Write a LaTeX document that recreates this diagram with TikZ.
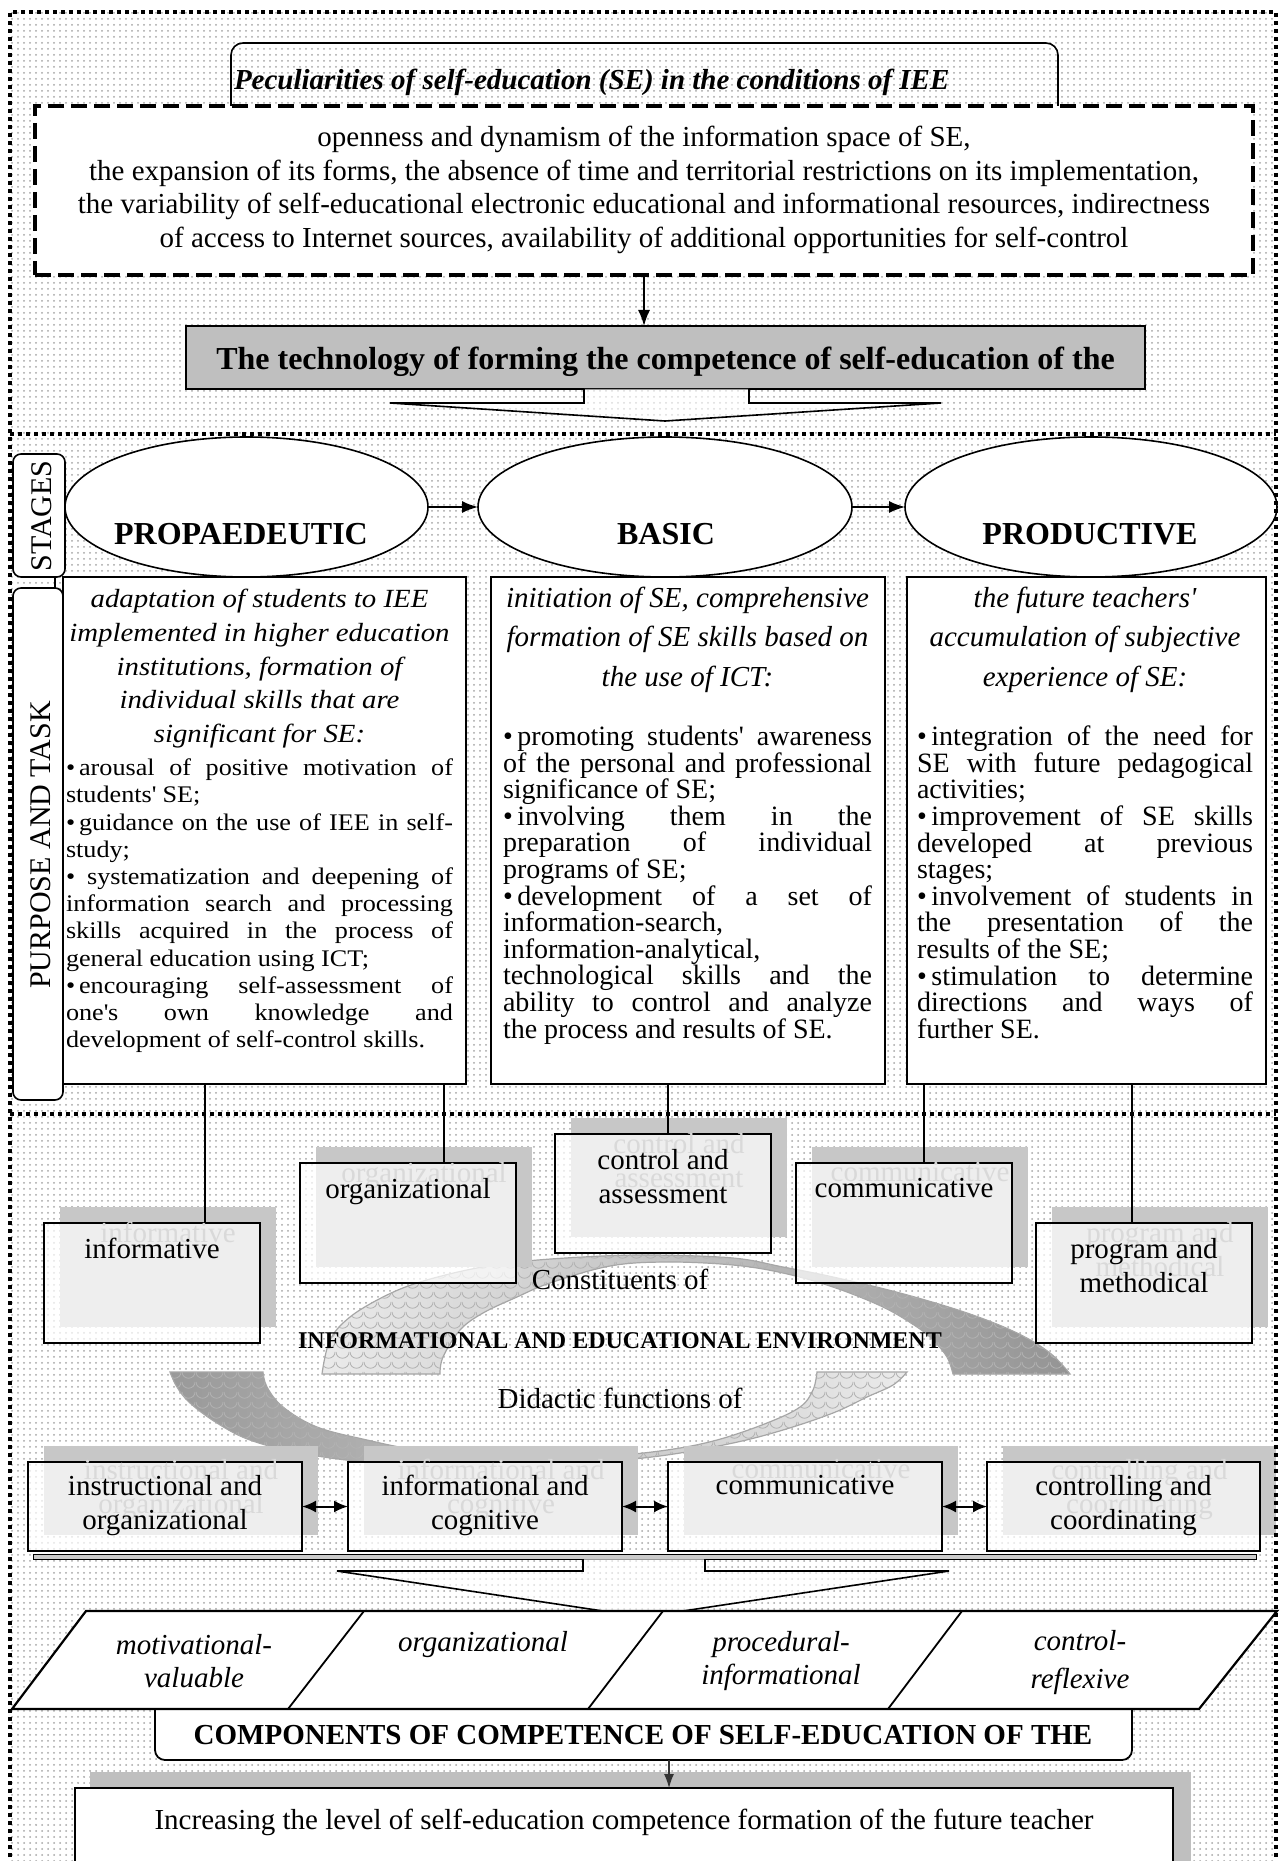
\documentclass[tikz,border=0pt]{standalone}
\usepackage{fontspec}
\setmainfont{Liberation Serif}
\newfontfamily\widefont{Liberation Serif}[FakeStretch=1.1]
\usetikzlibrary{shapes.geometric,arrows.meta,patterns,calc}
\pgfdeclarepatternformonly{scales}{\pgfqpoint{0pt}{0pt}}{\pgfqpoint{7pt}{5pt}}{\pgfqpoint{7pt}{5pt}}{%
  \pgfsetlinewidth{0.45pt}%
  \pgfpathmoveto{\pgfqpoint{0pt}{5pt}}%
  \pgfpatharc{180}{360}{3.5pt}%
  \pgfusepath{stroke}%
}
\newcommand\fsz[2]{\fontsize{#1}{#2}\selectfont}
\newcommand\apos{\textquotesingle}
\newcommand\shbox[8]{%
  \fill[black!22] ($(#2,#3)+(16,-16)$) rectangle ($(#4,#5)+(16,-16)$);
  \node[fbox, anchor=north west, minimum width={(#4-#2)*0.5pt}, minimum height={(#5-#3)*0.5pt}] (#1) at (#2,#3) {};
  \node[anchor=north, align=center, font={\fsz{14.5pt}{17pt}}, text=black!15] at ($(#8,#6)+(16,-16)$) {#7};
  \node[anchor=north, align=center, font={\fsz{14.5pt}{17pt}}] (#1t) at (#8,#6) {#7};
}
\begin{document}
\begin{tikzpicture}[x=0.5pt,y=-0.5pt,
  every node/.style={inner sep=0pt,outer sep=0pt},
  frame/.style={line width=1.9pt,dash pattern=on 2pt off 2pt},
  box/.style={draw,line width=0.9pt,fill=white},
  fbox/.style={draw,line width=0.9pt,fill=white,fill opacity=0.7,draw opacity=1},
  arr/.style={-{Latex[length=8pt,width=6pt]},line width=0.8pt},
  darr/.style={{Latex[length=7pt,width=6pt]}-{Latex[length=7pt,width=6pt]},line width=1pt},
  thinln/.style={line width=0.6pt},
  jtext/.style={anchor=north,align=justify},
  ribbon/.style={draw=black!35,line width=0.6pt,postaction={pattern=scales,pattern color=black!30}},
]
\useasboundingbox (0,0) rectangle (1283,1861);
\fill[white] (0,0) rectangle (1283,1861);
\fill[pattern=dots,pattern color=black!35] (10,12) rectangle (1276,1861);

% ---------- top section ----------
\draw[line width=0.8pt,rounded corners=6pt] (231,106) -- (231,43) -- (1058,43) -- (1058,106);
\node[anchor=west,font={\fsz{14.5pt}{17pt}\bfseries\itshape}] (pec) at (234,82) {Peculiarities of self-education (SE) in the conditions of IEE};
\node[draw,fill=white,line width=1.7pt,dash pattern=on 8pt off 3.5pt,anchor=north west,minimum width=609pt,minimum height=84.5pt] (feat) at (35,106) {};
\node[align=center,font={\fsz{14.5pt}{16.7pt}}] (featt) at (644,190) {openness and dynamism of the information space of SE,\\
the expansion of its forms, the absence of time and territorial restrictions on its implementation,\\
the variability of self-educational electronic educational and informational resources, indirectness\\
of access to Internet sources, availability of additional opportunities for self-control};
\node[draw,fill=black!25,line width=0.8pt,anchor=north west,minimum width=479.5pt,minimum height=31.5pt] (tech) at (186,326) {};
\node[font={\fsz{16pt}{18pt}\bfseries}] (techt) at (665.5,362) {The technology of forming the competence of self-education of the};
\draw[arr] (feat.south) -- (feat.south |- tech.north);
\draw[line width=0.8pt,fill=white,fill opacity=0.6] (584,389) -- (584,403) -- (390,403) -- (665,421) -- (941,403) -- (749,403) -- (749,389);

% ---------- middle section ----------
\node[ellipse,draw,fill=white,line width=0.8pt,minimum width=181.5pt,minimum height=70pt] (e1) at (246.5,507) {};
\node[ellipse,draw,fill=white,line width=0.8pt,minimum width=187pt,minimum height=70pt] (e2) at (665,507) {};
\node[ellipse,draw,fill=white,line width=0.8pt,minimum width=186pt,minimum height=70pt] (e3) at (1091,507) {};
\node[font={\fsz{16pt}{18pt}\bfseries}] (e1t) at (241,534) {PROPAEDEUTIC};
\node[font={\fsz{16pt}{18pt}\bfseries}] (e2t) at (666,534) {BASIC};
\node[font={\fsz{16pt}{18pt}\bfseries}] (e3t) at (1090,534) {PRODUCTIVE};
\draw[arr] (e1) -- (e2);
\draw[arr] (e2) -- (e3);

\node[draw,fill=white,line width=0.8pt,rounded corners=4pt,minimum width=26pt,minimum height=61.5pt] (stg) at (39,515.5) {};
\node[rotate=90,font={\fsz{15pt}{16pt}}] (stgt) at (42,516) {STAGES};
\node[draw,fill=white,line width=0.8pt,rounded corners=4pt,minimum width=25pt,minimum height=256pt] (pur) at (38,844) {};
\node[rotate=90,font={\fsz{15pt}{16pt}}] (purt) at (41,845) {PURPOSE AND TASK};
\coordinate (cst) at (55,0);
\draw[thinln] (stg.south -| cst) -- (pur.north -| cst);

\node[box,anchor=north west,minimum width=201.5pt,minimum height=253.5pt] (b1) at (63,577) {};
\node[box,anchor=north west,minimum width=197pt,minimum height=253.5pt] (b2) at (491,577) {};
\node[box,anchor=north west,minimum width=179.5pt,minimum height=253.5pt] (b3) at (907,577) {};

\node[anchor=north,align=center,font={\widefont\itshape\fsz{13.1pt}{16.9pt}}] (h1) at (259.5,589) {adaptation of students to IEE\\implemented in higher education\\institutions, formation of\\individual skills that are\\significant for SE:};
\node[jtext,text width=193.5pt,font={\widefont\fsz{11.9pt}{13.6pt}}] (l1) at (259.5,759) {\parindent0pt\tolerance10000\hbadness10000\hyphenpenalty10000
•\,arousal of positive motivation of\linebreak students\apos{} SE;\par
•\,guidance on the use of IEE in self-\linebreak study;\par
• systematization and deepening of\linebreak information search and processing\linebreak skills acquired in the process of\linebreak general education using ICT;\par
•\,encouraging self-assessment of\linebreak one\apos{}s own knowledge and\linebreak development of self-control skills.\par};

\node[anchor=north,align=center,font={\itshape\fsz{14.5pt}{19.75pt}}] (h2) at (687.5,587) {initiation of SE, comprehensive\\formation of SE skills based on\\the use of ICT:};
\node[jtext,text width=184.5pt,font={\fsz{14pt}{13.3pt}}] (l2) at (687.5,726) {\parindent0pt\tolerance10000\hbadness10000\hyphenpenalty10000
•\,promoting students\apos{} awareness\linebreak of the personal and professional\linebreak significance of SE;\par
•\,involving them in the\linebreak preparation of individual\linebreak programs of SE;\par
•\,development of a set of\linebreak information-search,\newline information-analytical,\newline technological skills and the\linebreak ability to control and analyze\linebreak the process and results of SE.\par};

\node[anchor=north,align=center,font={\itshape\fsz{14.5pt}{19.75pt}}] (h3) at (1085,587) {the future teachers\apos\\accumulation of subjective\\experience of SE:};
\node[jtext,text width=168pt,font={\fsz{14pt}{13.3pt}}] (l3) at (1085,726) {\parindent0pt\tolerance10000\hbadness10000\hyphenpenalty10000
•\,integration of the need for\linebreak SE with future pedagogical\linebreak activities;\par
•\,improvement of SE skills\linebreak developed at previous\linebreak stages;\par
•\,involvement of students in\linebreak the presentation of the\linebreak results of the SE;\par
•\,stimulation to determine\linebreak directions and ways of\linebreak further SE.\par};

% ---------- bottom section ----------
% ribbons
\shade[ribbon,left color=black!8,right color=black!42]
  plot[smooth,tension=0.6] coordinates {(322,1374) (330,1340) (350,1317) (383,1297) (417,1283) (467,1270) (517,1262) (583,1257) (650,1255) (733,1258) (783,1267) (833,1277) (900,1293) (967,1313) (1017,1333) (1050,1353) (1070,1374)}
  -- plot[smooth,tension=0.6] coordinates {(953,1374) (947,1357) (933,1340) (917,1327) (883,1307) (833,1287) (783,1273) (733,1265) (667,1262) (610,1266) (550,1283) (517,1297) (483,1313) (460,1330) (443,1357) (440,1374)} -- cycle;
\shade[ribbon,left color=black!40,right color=black!8]
  plot[smooth,tension=0.6] coordinates {(170,1372) (177,1387) (190,1403) (217,1423) (250,1440) (300,1453) (367,1462) (450,1465) (550,1464) (600,1462) (667,1455) (733,1443) (783,1430) (833,1413) (867,1397) (893,1385) (907,1372)}
  -- plot[smooth,tension=0.6] coordinates {(817,1372) (813,1390) (800,1407) (767,1423) (717,1440) (667,1450) (600,1457) (540,1459) (483,1457) (417,1450) (367,1440) (317,1427) (283,1407) (267,1387) (263,1372)} -- cycle;

\node[font={\fsz{14.5pt}{17pt}}] (cons) at (620,1279) {Constituents of};
\node[font={\fsz{12pt}{14pt}\bfseries}] (iee) at (620,1341) {INFORMATIONAL AND EDUCATIONAL ENVIRONMENT};
\node[font={\fsz{14.5pt}{17pt}}] (did) at (620,1398) {Didactic functions of};

% constituent boxes
\shbox{inf}{44}{1223}{260}{1343}{1238}{informative}{152}
\shbox{org}{300}{1163}{516}{1283}{1178}{organizational}{408}
\shbox{ctl}{555}{1134}{771}{1253}{1149}{control and\\assessment}{663}
\shbox{com}{796}{1163}{1012}{1283}{1178}{communicative}{904}
\shbox{prg}{1036}{1223}{1252}{1343}{1238}{program and\\methodical}{1144}

\coordinate (cx1) at (205,0);
\coordinate (cx2) at (444,0);
\coordinate (cx3) at (668,0);
\coordinate (cx4) at (924,0);
\coordinate (cx5) at (1132,0);
\draw[thinln] (b1.south -| cx1) -- (inf.north -| cx1);
\draw[thinln] (b1.south -| cx2) -- (org.north -| cx2);
\draw[thinln] (b2.south -| cx3) -- (ctl.north -| cx3);
\draw[thinln] (b3.south -| cx4) -- (com.north -| cx4);
\draw[thinln] (b3.south -| cx5) -- (prg.north -| cx5);

% didactic function boxes
\shbox{f1}{28}{1462}{302}{1551}{1475}{instructional and\\organizational}{165}
\shbox{f2}{348}{1462}{622}{1551}{1475}{informational and\\cognitive}{485}
\shbox{f3}{668}{1462}{942}{1551}{1475}{communicative}{805}
\shbox{f4}{987}{1462}{1260}{1551}{1475}{controlling and\\coordinating}{1123.5}
\draw[darr] (f1.east) -- (f2.west);
\draw[darr] (f2.east) -- (f3.west);
\draw[darr] (f3.east) -- (f4.west);

\draw[fill=black!20,line width=0.5pt] (33,1554) rectangle (1256,1559);
\draw[line width=0.8pt,fill=white,fill opacity=0.6] (583,1559) -- (583,1571) -- (337,1571) -- (643,1617) -- (949,1571) -- (705,1571) -- (705,1559);

% components
\node[anchor=north west,minimum width=488.5pt,minimum height=25.5pt] (comp) at (155,1709) {};
\draw[line width=0.9pt,fill=white,rounded corners=5pt] (155,1709) -- (155,1760) -- (1132,1760) -- (1132,1709);
\node[font={\fsz{14.5pt}{17pt}\bfseries}] (compt) at (643,1735) {COMPONENTS OF COMPETENCE OF SELF-EDUCATION OF THE};

\draw[line width=1.1pt,fill=white] (86,1611) -- (1277,1611) -- (1199,1709) -- (12,1709) -- cycle;
\draw[line width=0.9pt] (364,1611) -- (288,1709) (663,1611) -- (588,1709) (962,1611) -- (888,1709);
\node[align=center,font={\itshape\fsz{14.5pt}{16.5pt}}] (k1) at (194,1661) {motivational-\\valuable};
\node[align=center,font={\itshape\fsz{14.5pt}{16.5pt}}] (k2) at (483,1645) {organizational};
\node[align=center,font={\itshape\fsz{14.5pt}{16.5pt}}] (k3) at (781,1661) {procedural-\\informational};
\node[align=center,font={\itshape\fsz{14.5pt}{19pt}}] (k4) at (1080,1663) {control-\\reflexive};

% final
\fill[black!25] (90,1772) rectangle (1191,1880);
\node[box,anchor=north west,minimum width=549pt,minimum height=50pt] (fin) at (75,1788) {};
\node[font={\fsz{14.5pt}{17pt}}] (fint) at (624,1822) {Increasing the level of self-education competence formation of the future teacher};
\coordinate (c6) at (669,0);
\draw[-{Latex[length=7pt,width=5pt]},line width=0.6pt,black!80] (comp.south -| c6) -- (fin.north -| c6);

% frame
\draw[frame] (10,1865) -- (10,12) -- (1276,12) -- (1276,1865);
\draw[frame] (10,434) -- (1276,434);
\draw[frame] (10,1114) -- (1276,1114);
\end{tikzpicture}
\end{document}
